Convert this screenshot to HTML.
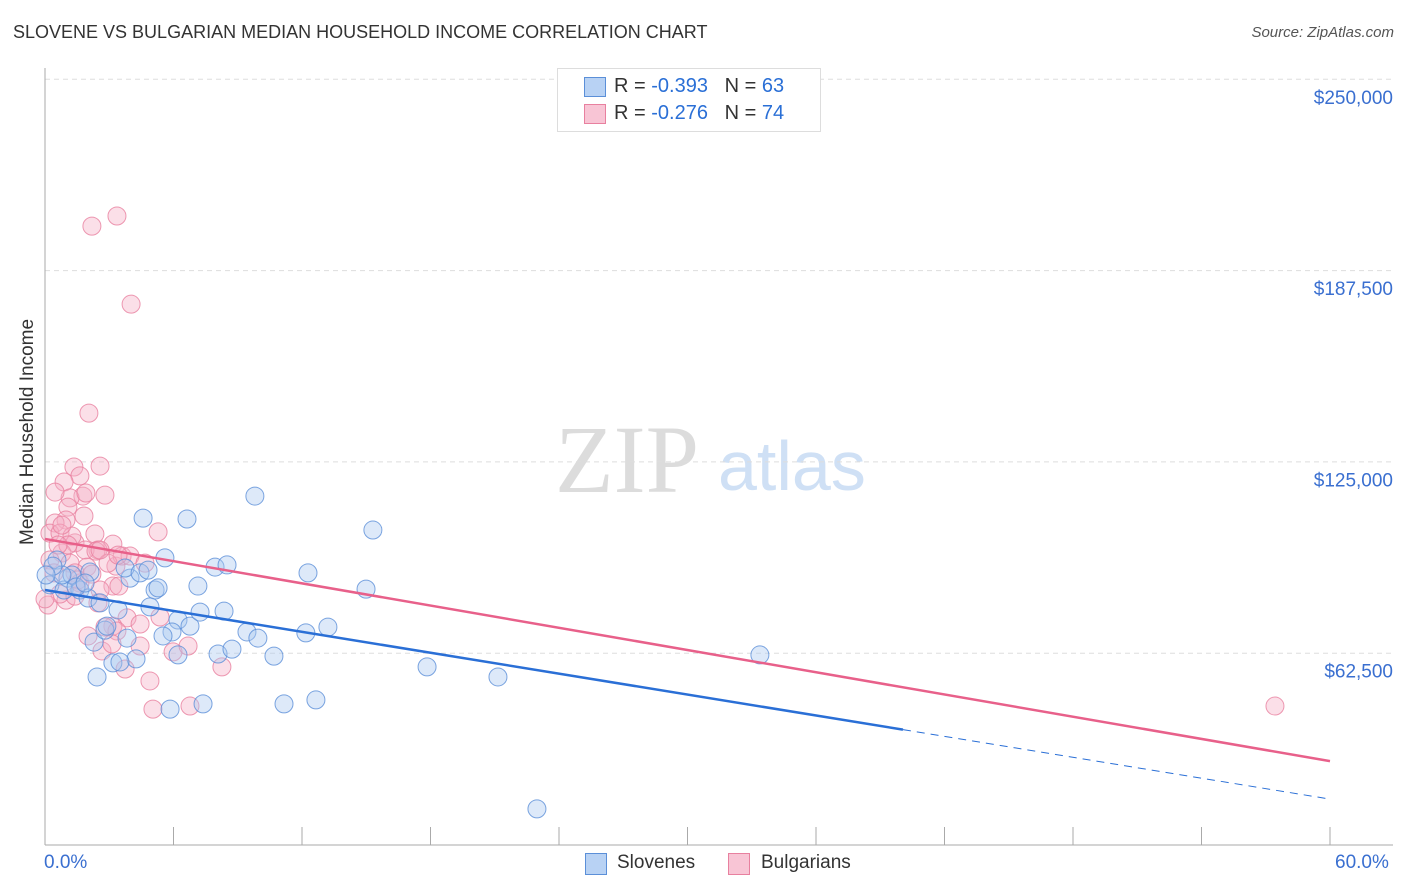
<!DOCTYPE html>
<html><head><meta charset="utf-8"><style>
body{margin:0;width:1406px;height:892px;background:#fff;font-family:"Liberation Sans",sans-serif;overflow:hidden;position:relative}
.t{position:absolute;white-space:nowrap}
</style></head><body>
<div class="t" style="left:13px;top:22px;font-size:18px;color:#333">SLOVENE VS BULGARIAN MEDIAN HOUSEHOLD INCOME CORRELATION CHART</div>
<div class="t" style="right:12px;top:24px;font-size:15px;color:#555;font-style:italic">Source: ZipAtlas.com</div>
<svg id="c" width="1406" height="892" style="position:absolute;left:0;top:0"></svg>
<script>
const yTicks=[62500,125000,187500,250000];
const yTickLabels=["$62,500","$125,000","$187,500","$250,000"];
const xTicks=[0,6,12,18,24,30,36,42,48,54,60];
const sloveneX=[0.56,0.23,1.07,0.89,1.26,1.63,2.01,2.57,2.10,3.97,3.41,3.74,4.44,4.81,5.14,5.28,5.60,4.90,4.58,6.63,6.21,5.93,6.77,5.51,6.21,7.24,7.14,7.94,8.50,8.36,8.08,8.73,9.43,9.94,10.69,9.80,12.28,12.18,13.21,14.99,15.31,11.16,12.65,5.84,7.38,17.84,21.15,22.97,33.38,2.29,2.80,3.17,4.25,2.43,3.83,2.89,1.45,0.79,1.87,0.37,3.50,0.05];
const sloveneY=[93.1,85.0,87.2,83.3,88.2,83.3,80.7,79.1,89.2,87.2,76.8,90.5,88.9,89.8,83.3,84.0,93.8,77.8,106.8,106.5,73.5,69.6,71.5,68.3,62.1,76.1,84.6,90.8,91.5,76.4,62.4,64.0,69.6,67.6,61.7,114.0,88.9,69.3,71.2,83.6,102.9,46.1,47.4,44.4,46.1,58.2,54.9,11.8,62.1,66.3,70.2,59.5,60.8,54.9,67.6,71.5,84.3,88.2,85.6,91.1,59.8,88.2];
const bulgX=[3.36,2.19,4.02,2.05,2.57,1.35,1.63,0.89,2.80,1.77,1.17,0.47,1.07,0.98,0.47,0.23,0.70,1.40,2.33,3.17,2.47,1.87,0.79,0.23,1.17,1.96,1.40,3.31,3.60,3.97,4.67,5.28,5.37,4.44,3.83,3.17,2.80,2.66,3.74,4.90,5.04,6.77,8.26,5.98,6.68,2.01,3.36,3.17,2.57,1.63,0.98,0.70,0.42,0.14,1.54,2.19,57.43,2.38,1.82,1.26,2.94,3.45,1.07,0.61,0.0,2.57,1.40,3.13,4.44,2.47,3.41,0.79,1.91];
const bulgY=[205.5,202.2,176.7,141.1,123.8,123.5,120.6,118.6,114.3,114.0,113.4,115.3,110.4,106.2,105.2,101.9,101.9,98.7,101.6,98.3,96.4,96.4,95.4,93.1,92.1,90.8,88.9,91.1,94.4,94.4,92.1,102.3,74.5,65.0,74.2,71.5,71.2,63.4,57.5,53.6,44.4,45.4,58.2,63.1,65.0,68.3,69.9,84.6,83.3,85.6,80.0,82.0,88.9,78.4,86.6,88.5,45.4,96.0,107.5,100.9,92.1,84.6,98.0,98.0,80.4,96.4,81.3,65.7,72.2,79.1,94.7,104.5,115.0];
const sloveneTrend=[83.3,15.0]; const sloveneSolidEnd=40.06;
const bulgTrend=[100.0,27.4];

const svg=document.getElementById('c');const NS='http://www.w3.org/2000/svg';
const X0=45,X1=1330,YB=845,PX=191.3/62500;
const sx=v=>X0+(v/60)*(X1-X0);
const sy=v=>YB-v*PX;
function mk(t,a,p){const e=document.createElementNS(NS,t);for(const k in a)e.setAttribute(k,a[k]);(p||svg).appendChild(e);return e;}
// watermark
let w=mk('text',{x:555,y:492,'font-family':'Liberation Serif, serif','font-size':96,fill:'#dcdcdc'});w.textContent='ZIP';


let w2=mk('text',{x:718,y:490,'font-family':'Liberation Sans, sans-serif','font-size':70,fill:'#cfe0f5'});w2.textContent='atlas';


// gridlines
yTicks.forEach((v,i)=>{
 const g=mk('line',{x1:X0,x2:1393,y1:sy(v)-0.5,y2:sy(v)-0.5,stroke:'#ddd','stroke-dasharray':'5,4'});
 
 
 const t=mk('text',{x:1393,y:sy(v)+24,'text-anchor':'end','font-size':19,fill:'#3a6fd0','font-family':'Liberation Sans, sans-serif'});
 t.textContent=yTickLabels[i];
 
 
});
// axes
let ax=mk('line',{x1:X0,x2:X0,y1:68,y2:YB,stroke:'#aaa'});


let ax2=mk('line',{x1:X0,x2:1393,y1:YB,y2:YB,stroke:'#aaa'});


xTicks.forEach(v=>{const t=mk('line',{x1:sx(v),x2:sx(v),y1:YB,y2:YB-18,stroke:'#aaa'});
 
 });
function dots(xs,ys,fill,stroke,name){xs.forEach((x,i)=>{const c=mk('circle',{cx:sx(x),cy:sy(ys[i]*1000),r:9,fill:fill,'fill-opacity':0.4,stroke:stroke,'stroke-opacity':0.8,'stroke-width':1});
 
 });}
dots(bulgX,bulgY,'#f5b0c5','#e8809f','bulgarian-point');
dots(sloveneX,sloveneY,'#a9c9f1','#5b8fd8','slovene-point');
// trends
const sAt=x=>sloveneTrend[0]+(sloveneTrend[1]-sloveneTrend[0])*x/60;
let l1=mk('line',{x1:sx(0),y1:sy(sAt(0)*1000),x2:sx(sloveneSolidEnd),y2:sy(sAt(sloveneSolidEnd)*1000),stroke:'#2a6fd6','stroke-width':2.5});


let l2=mk('line',{x1:sx(sloveneSolidEnd),y1:sy(sAt(sloveneSolidEnd)*1000),x2:sx(60),y2:sy(sAt(60)*1000),stroke:'#2a6fd6','stroke-width':1,'stroke-dasharray':'8,6'});


let l3=mk('line',{x1:sx(0),y1:sy(bulgTrend[0]*1000),x2:sx(60),y2:sy(bulgTrend[1]*1000),stroke:'#e8608a','stroke-width':2.5});


</script>
<div class="t" style="left:-62px;top:444px;font-size:19px;color:#333;transform:rotate(-90deg);width:180px;text-align:center">Median Household Income</div>
<div class="t" style="left:44px;top:852px;font-size:19px;color:#3a6fd0">0.0%</div>
<div class="t" style="left:1335px;top:852px;font-size:19px;color:#3a6fd0">60.0%</div>
<div style="position:absolute;left:557px;top:68px;width:262px;height:62px;border:1px solid #ddd;background:#fff;font-size:20px">
 <div style="position:absolute;left:26px;top:8px;width:20px;height:18px;background:#b8d2f4;border:1px solid #5b8fd8"></div>
 <div class="t" style="left:56px;top:6px;color:#333">R = <span style="color:#2a6fd6">-0.393</span>&nbsp;&nbsp;&nbsp;N = <span style="color:#2a6fd6">63</span></div>
 <div style="position:absolute;left:26px;top:35px;width:20px;height:18px;background:#f8c5d5;border:1px solid #e8809f"></div>
 <div class="t" style="left:56px;top:33px;color:#333">R = <span style="color:#2a6fd6">-0.276</span>&nbsp;&nbsp;&nbsp;N = <span style="color:#2a6fd6">74</span></div>
</div>
<div style="position:absolute;left:585px;top:853px;width:20px;height:20px;background:#b8d2f4;border:1px solid #5b8fd8"></div>
<div class="t" style="left:617px;top:852px;font-size:19px;color:#333">Slovenes</div>
<div style="position:absolute;left:728px;top:853px;width:20px;height:20px;background:#f8c5d5;border:1px solid #e8809f"></div>
<div class="t" style="left:761px;top:852px;font-size:19px;color:#333">Bulgarians</div>
</body></html>
